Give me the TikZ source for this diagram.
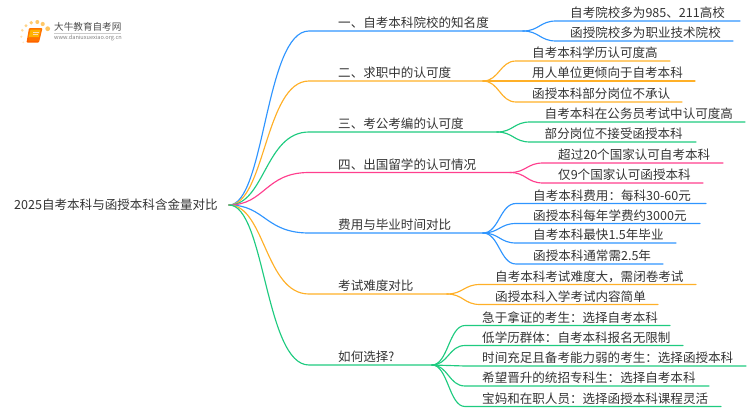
\documentclass[tikz,border=0pt]{standalone}
\usepackage{fontspec}
\setmainfont{Noto Sans CJK SC}
\definecolor{cblue}{HTML}{2F95FF}
\definecolor{corange}{HTML}{FFB028}
\definecolor{cgreen}{HTML}{1FCB80}
\definecolor{cpink}{HTML}{FF3F8E}
\definecolor{ctext}{HTML}{333333}
\tikzset{
  lbl/.style={inner sep=0pt,anchor=base west,text=ctext,font=\fontsize{12.55}{14}\selectfont},
  wire/.style={line width=1.15pt,line cap=round},
}
\newcommand{\branchrow}[5]{%
  \coordinate (#1s) at (309,#2);
  \coordinate (#1f) at (#3,#2);
  \node[lbl] (#1t) at (338,#2-3.5) {#4};
  \draw[wire,#5] (rootp) .. controls (265,205) and (265,#2) .. (#1s) -- (#1f);
}
\newcommand{\kidrow}[7]{% name, fork, y, fork x, text x, end x, text
  \coordinate (#1s) at (#4+33,#3);
  \coordinate (#1e) at (#6,#3);
  \node[lbl] (#1t) at (#5,#3-3.5) {#7};
}
\newcommand{\kidwire}[4]{% name, fork, y, color
  \draw[wire,#4] (#2f) .. controls ($(#2f)+(16,0)$) and ($(#1s)+(-16,0)$) .. (#1s) -- (#1e);
}
\usetikzlibrary{calc}
\begin{document}
\begin{tikzpicture}[x=1pt,y=-1pt]
\useasboundingbox (0,0) rectangle (750,410);
% logo
\foreach \px/\py/\pr/\po in {47.7/28.7/2.4/0.75,42.7/24/2.1/0.7,37.3/22/2/0.7,31.3/22.7/1.9/0.65,26/25.7/1.6/0.55,22.3/30.3/1.4/0.45,21.3/36.7/1.2/0.35,23.3/42.3/1/0.25}
  \fill[corange,opacity=\po] (\px,\py) circle (\pr);
\fill[orange!90!red,rounded corners=1pt] (29,28) -- (42.5,28) -- (39,42.5) -- (26.5,42.5) -- cycle;
\fill[orange!60!yellow] (30.5,29.5) -- (40.5,29.5) -- (38.8,37) -- (28.8,37) -- cycle;
\draw[white!70!orange,line width=0.5pt] (33,32) -- (38.5,32) (32.5,34) -- (38,34);
\draw[orange!70!red,line width=0.8pt] (28.5,38.5) -- (27.3,41.8) -- (38.5,41.8);
\node[inner sep=0pt,anchor=west,text=black!70] (logot) at (54,27) {\fontsize{9.6}{11}\selectfont 大牛教育自考网};
\node[inner sep=0pt,anchor=west,text=black!50] (logou) at (54,38.3) {\fontsize{5.6}{7}\selectfont www.daniuxuexiao.org.cn};
\draw[black!20,line width=0.5pt] (54,33) -- (121,33);
% root
\node[lbl] (root) at (14,209) {2025自考本科与函授本科含金量对比};
\coordinate (rootp) at (229,205);
% branches
\branchrow{a}{31}{523}{一、自考本科院校的知名度}{cblue}
\branchrow{b}{81}{483}{二、求职中的认可度}{corange}
\branchrow{c}{132}{497}{三、考公考编的认可度}{cgreen}
\branchrow{d}{172.5}{510}{四、出国留学的认可情况}{cpink}
\branchrow{e}{233}{483}{费用与毕业时间对比}{cblue}
\branchrow{f}{294}{447}{考试难度对比}{corange}
\branchrow{g}{365}{432}{如何选择?}{cgreen}
% kids
\kidrow{a1}{a}{21}{523}{570}{740}{自考院校多为985、211高校}
\kidrow{a2}{a}{41}{523}{570}{733}{函授院校多为职业技术院校}
\kidwire{a1}{a}{21}{cblue}\kidwire{a2}{a}{41}{cblue}
\kidrow{b1}{b}{61}{483}{532}{670}{自考本科学历认可度高}
\kidrow{b2}{b}{81}{483}{532}{695}{用人单位更倾向于自考本科}
\kidrow{b3}{b}{102}{483}{532}{682}{函授本科部分岗位不承认}
\kidwire{b1}{b}{61}{corange}\kidwire{b2}{b}{81}{corange}\kidwire{b3}{b}{102}{corange}
\kidrow{c1}{c}{122}{497}{544.5}{745}{自考本科在公务员考试中认可度高}
\kidrow{c2}{c}{142}{497}{544.5}{696}{部分岗位不接受函授本科}
\kidwire{c1}{c}{122}{cgreen}\kidwire{c2}{c}{142}{cgreen}
\kidrow{d1}{d}{163}{510}{558}{723}{超过20个国家认可自考本科}
\kidrow{d2}{d}{183}{510}{558}{703}{仅9个国家认可函授本科}
\kidwire{d1}{d}{163}{cpink}\kidwire{d2}{d}{183}{cpink}
\kidrow{e1}{e}{203.5}{483}{533}{706}{自考本科费用：每科30-60元}
\kidrow{e2}{e}{223.5}{483}{533}{700}{函授本科每年学费约3000元}
\kidrow{e3}{e}{243}{483}{533}{676}{自考本科最快1.5年毕业}
\kidrow{e4}{e}{264}{483}{533}{663}{函授本科通常需2.5年}
\kidwire{e1}{e}{203.5}{cblue}\kidwire{e2}{e}{223.5}{cblue}\kidwire{e3}{e}{243}{cblue}\kidwire{e4}{e}{264}{cblue}
\kidrow{f1}{f}{284.5}{447}{495}{696}{自考本科考试难度大，需闭卷考试}
\kidrow{f2}{f}{304.5}{447}{495}{658}{函授本科入学考试内容简单}
\kidwire{f1}{f}{284.5}{corange}\kidwire{f2}{f}{304.5}{corange}
\kidrow{g1}{g}{325.5}{432}{482}{670}{急于拿证的考生：选择自考本科}
\kidrow{g2}{g}{345.5}{432}{482}{683}{低学历群体：自考本科报名无限制}
\kidrow{g3}{g}{366}{432}{482}{746}{时间充足且备考能力弱的考生：选择函授本科}
\kidrow{g4}{g}{386}{432}{482}{709}{希望晋升的统招专科生：选择自考本科}
\kidrow{g5}{g}{406.5}{432}{482}{721}{宝妈和在职人员：选择函授本科课程灵活}
\kidwire{g1}{g}{325.5}{cgreen}\kidwire{g2}{g}{345.5}{cgreen}\kidwire{g3}{g}{366}{cgreen}\kidwire{g4}{g}{386}{cgreen}\kidwire{g5}{g}{406.5}{cgreen}
\end{tikzpicture}
\end{document}
